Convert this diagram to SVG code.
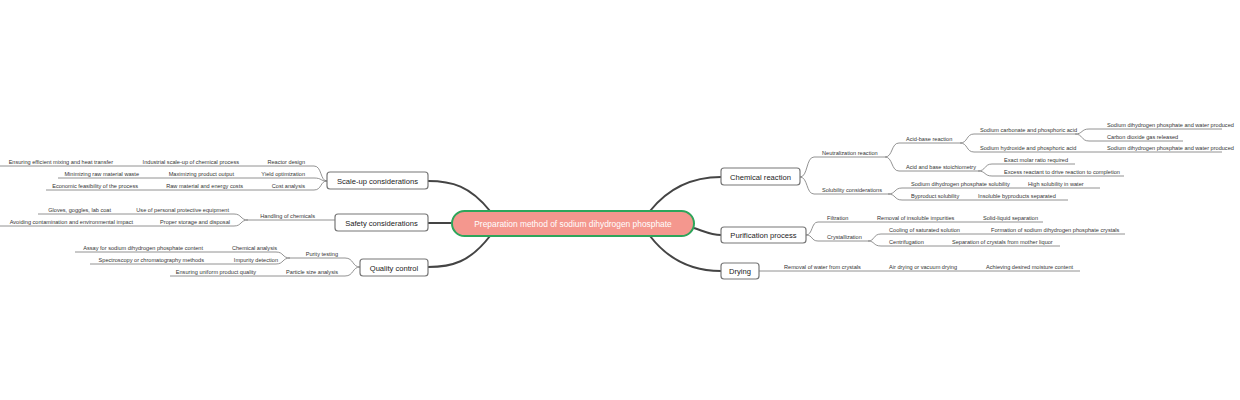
<svg xmlns="http://www.w3.org/2000/svg" width="1240" height="400" viewBox="0 0 1240 400">
<style>
text{font-family:"Liberation Sans",Arial,sans-serif;fill:#333}
.l{font-size:5.6px}
.e{text-anchor:end}
.m{font-size:7.6px;text-anchor:middle;fill:#222}
.b{fill:#fff;stroke:#777;stroke-width:1.2}
.c path{fill:none}
.t{stroke:#444;stroke-width:2}
.s{stroke:#777;stroke-width:0.8}
</style>
<rect width="1240" height="400" fill="#fff"/>
<g id="connectors" class="c">
<path class="t" d="M490 211 C470 186 452 181 428 181"/>
<path class="t" d="M452 223 L428 223"/>
<path class="t" d="M490 236 C470 262 452 267 428 267"/>
<path class="t" d="M650 211 C670 186 695 177 721 177"/>
<path class="t" d="M694 228 C706 232 712 235 721 235"/>
<path class="t" d="M650 236 C670 262 695 271 721 271"/>
<!-- scale-up -->
<path class="s" d="M327 181 C320 181 322 166 314 166 M327 181 C320 181 322 178 314 178 M327 181 C320 181 322 190 314 190"/>
<path class="s" d="M314 166 H0 M314 178 H58 M314 190 H46"/>
<!-- safety -->
<path class="s" d="M335 220 H248 C240 220 242 214 234 214 M248 220 C240 220 242 226 234 226"/>
<path class="s" d="M234 214 H38 M234 226 H0"/>
<!-- quality -->
<path class="s" d="M360 267 C352 267 354 258 345 258 M360 267 C352 267 354 276 345 276"/>
<path class="s" d="M345 258 H290 C282 258 284 252 276 252 M290 258 C282 258 284 264 276 264"/>
<path class="s" d="M276 252 H75 M276 264 H90 M345 276 H170"/>
<!-- chemical -->
<path class="s" d="M800 177 C808 177 806 157 814 157 M800 177 C808 177 806 194 814 194"/>
<path class="s" d="M814 157 H885 C893 157 891 143 899 143 M885 157 C893 157 891 171 899 171"/>
<path class="s" d="M899 143 H960 C968 143 966 134 974 134 M960 143 C968 143 966 152 974 152"/>
<path class="s" d="M974 134 H1075 C1083 134 1081 129 1089 129 M1075 134 C1083 134 1081 141 1089 141"/>
<path class="s" d="M1089 129 H1222 M1089 141 H1183 M974 152 H1222"/>
<path class="s" d="M899 171 H978 C986 171 984 164 992 164 M978 171 C986 171 984 176 992 176"/>
<path class="s" d="M992 164 H1075 M992 176 H1124"/>
<path class="s" d="M814 194 H888 C896 194 894 188 902 188 M888 194 C896 194 894 200 902 200"/>
<path class="s" d="M902 188 H1100 M902 200 H1068"/>
<!-- purification -->
<path class="s" d="M806 235 C813 235 811 222 818 222 M806 235 C813 235 811 241 818 241"/>
<path class="s" d="M818 222 H1043 M818 241 H868 C875 241 873 234 881 234 M868 241 C875 241 873 246 881 246"/>
<path class="s" d="M881 234 H1125 M881 246 H1060"/>
<!-- drying -->
<path class="s" d="M759 271 H1080"/>
</g>
<g id="center"><rect x="452" y="211" width="242" height="25" rx="12.5" fill="#f4978e" stroke="#2ea55b" stroke-width="2"/><text x="573" y="226.5" class="m" style="fill:#fff;font-size:8.4px">Preparation method of sodium dihydrogen phosphate</text></g>
<g id="n-scale"><rect class="b" x="327" y="172" width="101" height="17" rx="3"/><text class="m" x="377.5" y="183.5">Scale-up considerations</text></g>
<g id="n-safety"><rect class="b" x="335" y="214" width="93" height="17" rx="3"/><text class="m" x="381.5" y="225.5">Safety considerations</text></g>
<g id="n-quality"><rect class="b" x="360" y="259" width="68" height="17" rx="3"/><text class="m" x="394" y="270.5">Quality control</text></g>
<g id="n-chem"><rect class="b" x="721" y="168" width="79" height="17" rx="3"/><text class="m" x="760.5" y="179.5">Chemical reaction</text></g>
<g id="n-purif"><rect class="b" x="721" y="227" width="85" height="16" rx="3"/><text class="m" x="763.5" y="238">Purification process</text></g>
<g id="n-dry"><rect class="b" x="721" y="263" width="38" height="16" rx="3"/><text class="m" x="740" y="274">Drying</text></g>
<g id="leaves-left" class="l">
<text class="l e" x="305" y="164">Reactor design</text>
<text class="l e" x="239" y="164">Industrial scale-up of chemical process</text>
<text class="l e" x="113" y="164">Ensuring efficient mixing and heat transfer</text>
<text class="l e" x="305" y="176">Yield optimization</text>
<text class="l e" x="234" y="176">Maximizing product output</text>
<text class="l e" x="139" y="176">Minimizing raw material waste</text>
<text class="l e" x="305" y="188">Cost analysis</text>
<text class="l e" x="243" y="188">Raw material and energy costs</text>
<text class="l e" x="138" y="188">Economic feasibility of the process</text>
<text class="l e" x="315" y="218">Handling of chemicals</text>
<text class="l e" x="229" y="212">Use of personal protective equipment</text>
<text class="l e" x="111" y="212">Gloves, goggles, lab coat</text>
<text class="l e" x="230" y="224">Proper storage and disposal</text>
<text class="l e" x="133" y="224">Avoiding contamination and environmental impact</text>
<text class="l e" x="338" y="256">Purity testing</text>
<text class="l e" x="338" y="274">Particle size analysis</text>
<text class="l e" x="277" y="250">Chemical analysis</text>
<text class="l e" x="203" y="250">Assay for sodium dihydrogen phosphate content</text>
<text class="l e" x="278" y="262">Impurity detection</text>
<text class="l e" x="204" y="262">Spectroscopy or chromatography methods</text>
<text class="l e" x="256" y="274">Ensuring uniform product quality</text>
</g>
<g id="leaves-right" class="l">
<text class="l" x="822" y="155">Neutralization reaction</text>
<text class="l" x="822" y="192">Solubility considerations</text>
<text class="l" x="906" y="141">Acid-base reaction</text>
<text class="l" x="906" y="169">Acid and base stoichiometry</text>
<text class="l" x="980" y="132">Sodium carbonate and phosphoric acid</text>
<text class="l" x="980" y="150">Sodium hydroxide and phosphoric acid</text>
<text class="l" x="1107" y="127">Sodium dihydrogen phosphate and water produced</text>
<text class="l" x="1107" y="139">Carbon dioxide gas released</text>
<text class="l" x="1107" y="150">Sodium dihydrogen phosphate and water produced</text>
<text class="l" x="1004" y="162">Exact molar ratio required</text>
<text class="l" x="1004" y="174">Excess reactant to drive reaction to completion</text>
<text class="l" x="911" y="186">Sodium dihydrogen phosphate solubility</text>
<text class="l" x="1028" y="186">High solubility in water</text>
<text class="l" x="911" y="198">Byproduct solubility</text>
<text class="l" x="978" y="198">Insoluble byproducts separated</text>
<text class="l" x="827" y="220">Filtration</text>
<text class="l" x="877" y="220">Removal of insoluble impurities</text>
<text class="l" x="983" y="220">Solid-liquid separation</text>
<text class="l" x="827" y="239">Crystallization</text>
<text class="l" x="889" y="232">Cooling of saturated solution</text>
<text class="l" x="991" y="232">Formation of sodium dihydrogen phosphate crystals</text>
<text class="l" x="889" y="244">Centrifugation</text>
<text class="l" x="952" y="244">Separation of crystals from mother liquor</text>
<text class="l" x="784" y="269">Removal of water from crystals</text>
<text class="l" x="889" y="269">Air drying or vacuum drying</text>
<text class="l" x="986" y="269">Achieving desired moisture content</text>
</g>
</svg>
